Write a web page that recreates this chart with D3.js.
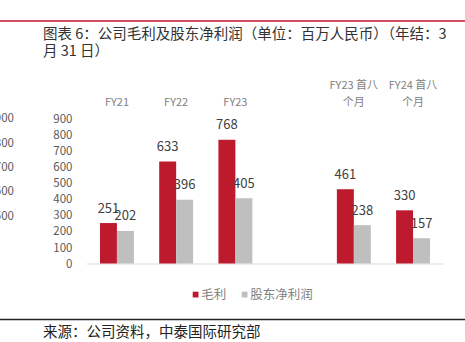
<!DOCTYPE html>
<html><head><meta charset="utf-8">
<script src="https://cdn.jsdelivr.net/npm/d3@7/dist/d3.min.js"></script>
<style>body{margin:0;background:#fff;}svg{display:block;}</style>
</head><body>
<script>
const categories = ["FY21","FY22","FY23","gap","FY23m8","FY24m8"];
const categoryLabels = [["FY21"],["FY22"],["FY23"],[],["FY23 首八","个月"],["FY24 首八","个月"]];
const grossProfit = [251, 633, 768, null, 461, 330];
const netProfit   = [202, 396, 405, null, 238, 157];
const seriesNames = ["毛利","股东净利润"];
const yTicks = [0,100,200,300,400,500,600,700,800,900];
const phantomTicks = ["900","800","700","600","500"];
const titleLines = ["图表 6：公司毛利及股东净利润（单位：百万人民币）（年结：3","月 31 日）"];
const sourceText = "来源：公司资料，中泰国际研究部";

const W = 465, H = 342;
const colors = ["#BE1A2E", "#BFBFBF"];
const font = "'Noto Sans CJK SC', 'Noto Sans', sans-serif";

const svg = d3.select("body").append("svg").attr("width", W).attr("height", H)
  .style("font-family", font);

// top red rule & bottom rule
svg.append("line").attr("x1",0).attr("x2",W).attr("y1",21).attr("y2",21)
  .attr("stroke","#C8102E").attr("stroke-width",1.5);
svg.append("line").attr("x1",0).attr("x2",W).attr("y1",319.5).attr("y2",319.5)
  .attr("stroke","#222").attr("stroke-width",1.5);

// title
svg.selectAll("text.title").data(titleLines).join("text").attr("class","title")
  .attr("x",43).attr("y",(d,i)=>39+i*16.5).attr("font-size","14.5px").attr("fill","#333")
  .text(d=>d);

// source
svg.append("text").attr("x",43).attr("y",337).attr("font-size","14.5px").attr("fill","#222").text(sourceText);

// scales
const y = d3.scaleLinear().domain([0,900]).range([263.5,118.5]);
const x0 = d3.scaleBand().domain(categories).range([87,443]).paddingInner(0.427).paddingOuter(0.219);
const x1 = d3.scaleBand().domain([0,1]).range([0,x0.bandwidth()]);

// phantom clipped axis of neighbouring chart
const yp = d3.scalePoint().domain(phantomTicks).range([118.3,215.7]);
svg.selectAll("text.ph").data(phantomTicks).join("text").attr("class","ph")
  .attr("x",14).attr("y",d=>yp(d)+4).attr("text-anchor","end")
  .attr("font-size","11.5px").attr("fill","#595959").text(d=>d);

// y axis labels
const yAxis = d3.axisLeft(y).tickValues(yTicks).tickSize(0).tickPadding(0);
const gy = svg.append("g").attr("transform","translate(72.5,0)").call(yAxis);
gy.select(".domain").remove();
gy.selectAll("text").attr("font-size","11.5px").attr("fill","#595959").attr("font-family",font);

// baseline
svg.append("line").attr("x1",87).attr("x2",443).attr("y1",y(0)+0.5).attr("y2",y(0)+0.5)
  .attr("stroke","#D9D9D9").attr("stroke-width",1);

// bars
const rows = categories.map((c,i)=>({c, v:[grossProfit[i], netProfit[i]]})).filter(r=>r.v[0]!=null);
const groups = svg.selectAll("g.grp").data(rows).join("g").attr("class","grp")
  .attr("transform",d=>`translate(${x0(d.c)},0)`);
groups.selectAll("rect").data(d=>d.v.map((v,k)=>({v,k}))).join("rect")
  .attr("x",d=>x1(d.k)).attr("width",x1.bandwidth())
  .attr("y",d=>y(d.v)).attr("height",d=>y(0)-y(d.v))
  .attr("fill",d=>colors[d.k]);
groups.selectAll("text").data(d=>d.v.map((v,k)=>({v,k}))).join("text")
  .attr("x",d=>x1(d.k)+x1.bandwidth()/2).attr("y",d=>y(d.v)-10.5)
  .attr("text-anchor","middle").attr("font-size","13px").attr("fill","#404040")
  .text(d=>d.v);

// category labels at top
categories.forEach((c,i)=>{
  const lines = categoryLabels[i];
  lines.forEach((t,j)=>{
    svg.append("text").attr("x",x0(c)+x0.bandwidth()/2)
      .attr("y",105.5-(lines.length-1-j)*16.5)
      .attr("text-anchor","middle").attr("font-size","11px").attr("fill","#808080").text(t);
  });
});

// legend
const legX = [192.7, 241.7];
seriesNames.forEach((n,i)=>{
  svg.append("rect").attr("x",legX[i]).attr("y",291.7).attr("width",5.8).attr("height",5.8).attr("fill",colors[i]);
  svg.append("text").attr("x",legX[i]+8.5).attr("y",298.8).attr("font-size","12.5px").attr("fill","#808080").text(n);
});
</script>
</body></html>
